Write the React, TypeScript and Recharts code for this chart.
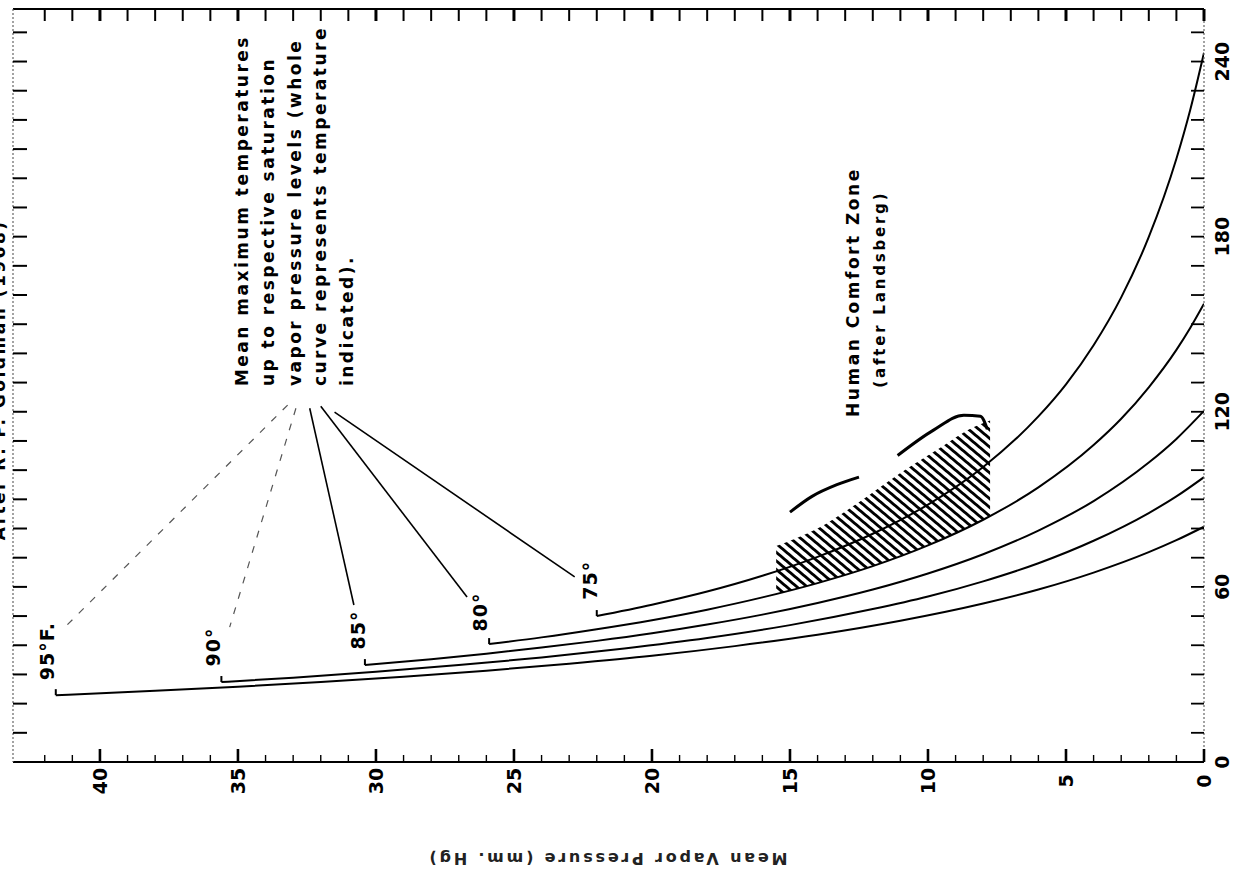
import React from "react";
import { ComposedChart, Line, Area, XAxis, YAxis, ReferenceLine, ReferenceDot } from "recharts";

const FONT = '"DejaVu Sans", Verdana, sans-serif';

// ---- axes ----
const vpDomain = [0, 43.15];
const valDomain = [0, 258];
const vpTicks = [0,1,2,3,4,5,6,7,8,9,10,11,12,13,14,15,16,17,18,19,20,21,22,23,24,25,26,27,28,29,30,31,32,33,34,35,36,37,38,39,40,41,42];
const vpLabelled = [0, 5, 10, 15, 20, 25, 30, 35, 40];
const valTicks = [0,10,20,30,40,50,60,70,80,90,100,110,120,130,140,150,160,170,180,190,200,210,220,230,240,250];
const valLabelled = [0, 60, 120, 180, 240];

// ---- curves: [mean vapor pressure (mm Hg), value] ----
const curve75 = [[22.0,50.0],[20,53.9],[18,58.4],[16,63.8],[14,70.3],[12,78.2],[10,88.2],[8,101.1],[6,118.4],[5,129.4],[4,142.8],[3,159.2],[2,179.9],[1,206.7],[0.5,223.4],[0,243.0]];
const curve80 = [[25.9,40.4],[24,42.7],[22,45.5],[20,48.6],[18,52.2],[16,56.4],[14,61.3],[12,67.1],[10,74.2],[8,83.0],[6,94.1],[4,108.6],[3,117.6],[2,128.4],[1,141.2],[0.5,148.7],[0,157.0]];
const curve85 = [[30.4,33.2],[28,35.2],[26,37.1],[24,39.2],[22,41.5],[20,44.1],[18,47.1],[16,50.5],[14,54.5],[12,59.1],[10,64.6],[8,71.2],[6,79.3],[4,89.4],[2,102.6],[1,110.7],[0,120.3]];
const curve90 = [[35.6,27.4],[33,28.9],[30,30.9],[27,33.2],[24,35.8],[21,38.9],[18,42.5],[15,46.9],[12,52.4],[10,56.7],[8,61.9],[6,68.1],[4,75.8],[2,85.3],[1,91.0],[0,97.6]];
const curve95 = [[41.6,22.9],[38,24.4],[35,25.8],[32,27.4],[29,29.2],[26,31.3],[23,33.7],[20,36.4],[17,39.7],[14,43.6],[11,48.4],[8,54.3],[6,59.1],[4,64.9],[2,71.9],[1,76.0],[0,80.6]];

// ---- human comfort zone ----
const zoneVp = [15.5, 14, 12.5, 11, 9.5, 8.5, 7.75];
const zoneLow = [57.5, 61.3, 65.6, 70.5, 76.2, 80.6, 84.2];
const zoneHigh = [74, 80, 89, 99, 108, 114, 117];
const outlineVp = [15.0, 14.2, 13.3, 12.5, 11.8, 11.1, 9.8, 8.7, 8.1, 7.85];
const outlineVal = [85.6, 91, 95, 97.6, null, 105, 113.7, 118.8, 118.5, 114];

// ---- annotations ----
const tempLabels = ["95°F.", "90°", "85°", "80°", "75°"];
const tempLabelVp = [41.92, 35.9, 30.65, 26.23, 22.25];
const tempLabelVal = [38.0, 39.4, 45.2, 51.4, 62.3];
const leaderFrom = [[33.2,122.3],[32.9,121.2],[32.4,121.2],[32.0,121.9],[31.5,119.9]];
const leaderTo = [[41.3,45.9],[35.3,46.2],[30.8,53.8],[26.7,56.5],[22.8,63.4]];
const leaderDashed = [true, true, false, false, false];

const noteLines = [
  "Mean maximum temperatures",
  "up to respective saturation",
  "vapor pressure levels (whole",
  "curve represents temperature",
  "indicated).",
];
const noteVp = [34.86, 33.91, 32.93, 32.03, 31.05];
const noteVal = 128.8;

const zoneTitle = ["Human Comfort Zone", "(after Landsberg)"];
const zoneTitleVp = [12.72, 11.74];
const zoneTitleVal = [161, 162];

const sourceText = "After R. P. Goldman (1968)";
const sourceVp = 43.66;
const sourceVal = 76.0;

const axisTitle = "Mean Vapor Pressure (mm. Hg)";
const axisTitleVp = 21.63;
const axisTitleVal = -32.9;

const toPts = (arr: number[][]) => arr.map(([vp, v]) => ({ vp, v }));
const zoneData = zoneVp.map((vp, i) => ({ vp, band: [zoneLow[i], zoneHigh[i]] }));
const outlineData = outlineVp.map((vp, i) => ({ vp, v: outlineVal[i] }));

const BottomTick = (p: any) => {
  const { x, y, payload } = p;
  const v = payload.value;
  const major = v % 5 === 0;
  return (
    <g>
      <line x1={x} y1={y} x2={x} y2={y - (major ? 13 : 7)} stroke="#000" strokeWidth={major ? 2.6 : 1.4} />
      {vpLabelled.includes(v) && (
        <text x={x} y={y + 19} transform={`rotate(-90 ${x} ${y + 19})`} textAnchor="middle" dominantBaseline="central"
          fontFamily={FONT} fontWeight="bold" fontSize={19} fill="#000">{v}</text>
      )}
    </g>
  );
};

const TopTick = (p: any) => {
  const { x, y, payload } = p;
  const major = payload.value % 5 === 0;
  return <line x1={x} y1={y} x2={x} y2={y + 12} stroke="#000" strokeWidth={major ? 3 : 2} />;
};

const LeftTick = (p: any) => {
  const { x, y, payload } = p;
  if (payload.value === 0) return <g />;
  return <line x1={x} y1={y} x2={x + 14} y2={y} stroke="#000" strokeWidth={2} />;
};

const RightTick = (p: any) => {
  const { x, y, payload } = p;
  const v = payload.value;
  return (
    <g>
      {v !== 0 && <line x1={x} y1={y} x2={x - 13} y2={y} stroke="#000" strokeWidth={1.8} />}
      {valLabelled.includes(v) && (
        <text x={x + 18} y={y} transform={`rotate(-90 ${x + 18} ${y})`} textAnchor="middle" dominantBaseline="central"
          fontFamily={FONT} fontWeight="bold" fontSize={19} fill="#000">{v}</text>
      )}
    </g>
  );
};

const StartHook = (p: any) => {
  const { cx, cy, index } = p;
  if (index !== 0) return <g key={`d${index}`} />;
  return <line key="hook" x1={cx} y1={cy} x2={cx} y2={cy - 6} stroke="#000" strokeWidth={2} />;
};

const textShape = (label: string, rot: number, anchor: string, size: number, ls: number, weight = "bold", color = "#000") =>
  (p: any) => {
    const { cx, cy } = p;
    return (
      <text x={cx} y={cy} transform={`rotate(${rot} ${cx} ${cy})`} textAnchor={anchor} dominantBaseline="central"
        fontFamily={FONT} fontWeight={weight} fontSize={size} letterSpacing={ls} fill={color}>{label}</text>
    );
  };

const curves = [curve75, curve80, curve85, curve90, curve95];

export default function App() {
  return (
    <div style={{ position: "absolute", left: 0, top: 0, width: 1237, height: 877, background: "#fff" }}>
      <ComposedChart width={1237} height={877} margin={{ top: 8, right: 32, bottom: 114, left: 12 }}>
        <defs>
          <pattern id="hatch" patternUnits="userSpaceOnUse" width="6.6" height="6.6" patternTransform="rotate(40)">
            <line x1="0" y1="3.3" x2="6.6" y2="3.3" stroke="#000" strokeWidth="2.8" />
          </pattern>
        </defs>
        <XAxis xAxisId="bottom" orientation="bottom" dataKey="vp" type="number" domain={vpDomain} reversed allowDataOverflow
          ticks={vpTicks} interval={0} tickSize={0} tickMargin={0} tickLine={false} height={1}
          axisLine={{ stroke: "#000", strokeWidth: 2 }} tick={BottomTick} />
        <XAxis xAxisId="top" orientation="top" dataKey="vp" type="number" domain={vpDomain} reversed allowDataOverflow
          ticks={vpTicks} interval={0} tickSize={0} tickMargin={0} tickLine={false} height={1}
          axisLine={{ stroke: "#000", strokeWidth: 2 }} tick={TopTick} />
        <YAxis yAxisId="left" orientation="left" type="number" domain={valDomain} allowDataOverflow
          ticks={valTicks} interval={0} tickSize={0} tickMargin={0} tickLine={false} width={1}
          axisLine={{ stroke: "#666", strokeWidth: 1.2, strokeDasharray: "2 2" }} tick={LeftTick} />
        <YAxis yAxisId="right" orientation="right" type="number" domain={valDomain} allowDataOverflow
          ticks={valTicks} interval={0} tickSize={0} tickMargin={0} tickLine={false} width={1}
          axisLine={{ stroke: "#666", strokeWidth: 1.2, strokeDasharray: "2 2" }} tick={RightTick} />

        <Area xAxisId="bottom" yAxisId="right" data={zoneData} dataKey="band" type="monotone"
          fill="url(#hatch)" fillOpacity={1} stroke="none" isAnimationActive={false} />
        <Line xAxisId="bottom" yAxisId="right" data={outlineData} dataKey="v" type="monotone"
          stroke="#000" strokeWidth={3} dot={false} connectNulls={false} isAnimationActive={false} />

        {curves.map((c, i) => (
          <Line key={`c${i}`} xAxisId="bottom" yAxisId="right" data={toPts(c)} dataKey="v" type="monotone"
            stroke="#000" strokeWidth={2} dot={StartHook} activeDot={false} isAnimationActive={false} />
        ))}

        {leaderFrom.map((f, i) => (
          <ReferenceLine key={`l${i}`} xAxisId="bottom" yAxisId="right" ifOverflow="visible"
            segment={[{ x: f[0], y: f[1] }, { x: leaderTo[i][0], y: leaderTo[i][1] }]}
            stroke={leaderDashed[i] ? "#555" : "#000"} strokeWidth={leaderDashed[i] ? 1.2 : 1.6}
            strokeDasharray={leaderDashed[i] ? "7 9" : undefined} />
        ))}

        {tempLabels.map((t, i) => (
          <ReferenceDot key={`t${i}`} xAxisId="bottom" yAxisId="right" x={tempLabelVp[i]} y={tempLabelVal[i]} r={0}
            ifOverflow="visible" shape={textShape(t, -90, "middle", 19, 1)} />
        ))}

        {noteLines.map((t, i) => (
          <ReferenceDot key={`n${i}`} xAxisId="bottom" yAxisId="right" x={noteVp[i]} y={noteVal} r={0}
            ifOverflow="visible" shape={textShape(t, -90, "start", 17, 2.5)} />
        ))}

        <ReferenceDot xAxisId="bottom" yAxisId="right" x={zoneTitleVp[0]} y={zoneTitleVal[0]} r={0}
          ifOverflow="visible" shape={textShape(zoneTitle[0], -90, "middle", 17, 2.5)} />
        <ReferenceDot xAxisId="bottom" yAxisId="right" x={zoneTitleVp[1]} y={zoneTitleVal[1]} r={0}
          ifOverflow="visible" shape={textShape(zoneTitle[1], -90, "middle", 15, 2.8)} />

        <ReferenceDot xAxisId="bottom" yAxisId="right" x={sourceVp} y={sourceVal} r={0}
          ifOverflow="visible" shape={textShape(sourceText, -90, "start", 17, 2.5)} />

        <ReferenceDot xAxisId="bottom" yAxisId="right" x={axisTitleVp} y={axisTitleVal} r={0}
          ifOverflow="visible" shape={textShape(axisTitle, 180, "middle", 16, 2.8, "bold", "#222")} />
      </ComposedChart>
    </div>
  );
}
